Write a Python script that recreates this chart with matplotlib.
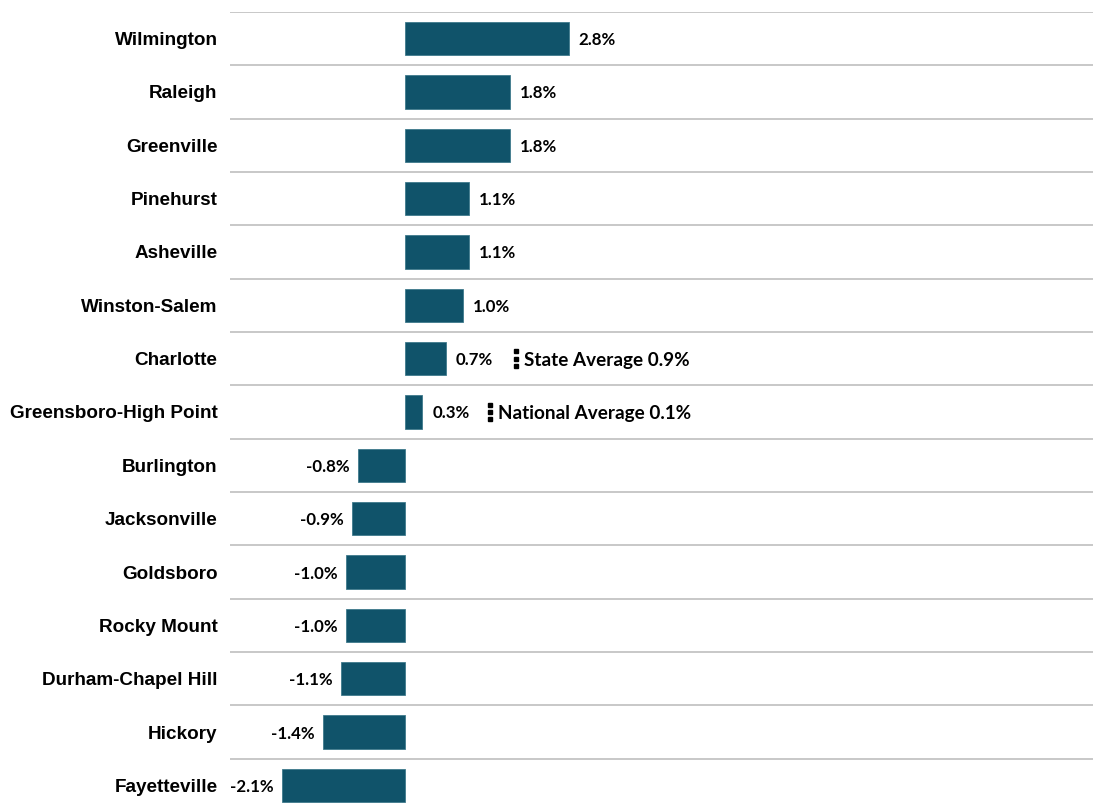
import matplotlib
matplotlib.use("Agg")
from matplotlib import pyplot as plt
import numpy as np

cities = ['Wilmington', 'Raleigh', 'Greenville', 'Pinehurst', 'Asheville',
          'Winston-Salem', 'Charlotte', 'Greensboro-High Point', 'Burlington',
          'Jacksonville', 'Goldsboro', 'Rocky Mount', 'Durham-Chapel Hill',
          'Hickory', 'Fayetteville']
growth = [2.8, 1.8, 1.8, 1.1, 1.1, 1.0, 0.7, 0.3, -0.8, -0.9, -1.0, -1.0, -1.1, -1.4, -2.1]

avg_labels = ['State Average 0.9%', 'National Average 0.1%']
avg_rows = ['Charlotte', 'Greensboro-High Point']
avg_marks = [1.9, 1.45]

bar_color = '#10536a'
label_font = ['Lato', 'DejaVu Sans']

fig = plt.figure(figsize=(10.93, 8.05), dpi=100)
ax = fig.add_axes([230 / 1093, -7 / 805, 1 - 230 / 1093, 800 / 805])

y = np.arange(len(cities))
ax.barh(y, growth, height=0.62, color=bar_color, edgecolor='#3f7a8c', linewidth=0.6, zorder=2)

# separators between rows
for b in np.arange(-0.5, len(cities) + 0.5, 1):
    ax.axhline(b, color='#bfbfbf', linewidth=1.2, zorder=1)

for yi, v in zip(y, growth):
    if v >= 0:
        ax.annotate(f'{v:.1f}%', (v, yi), xytext=(7, 0), textcoords='offset points',
                    ha='left', va='center_baseline', fontsize=12.2, fontweight='bold',
                    family=label_font, color='black')
    else:
        ax.annotate(f'{v:.1f}%', (v, yi), xytext=(-6, 0), textcoords='offset points',
                    ha='right', va='center_baseline', fontsize=12.2, fontweight='bold',
                    family=label_font, color='black')

# state / national average notes, each with a short dotted marker
for txt, row, xm in zip(avg_labels, avg_rows, avg_marks):
    yi = cities.index(row)
    ax.plot([xm] * 3, [yi - 0.14, yi, yi + 0.14], linestyle='none', marker='s',
            markersize=3.4, color='black', zorder=3)
    ax.annotate(txt, (xm, yi), xytext=(6, 0), textcoords='offset points',
                ha='left', va='center_baseline', fontsize=13.6, fontweight='bold',
                family=label_font, color='black')

ax.set_xlim(-2.99, 11.76)
ax.set_ylim(len(cities) - 0.5, -0.5)
ax.set_yticks(y)
ax.set_yticklabels(cities, fontsize=13.6, fontweight='bold', family='Liberation Sans')
ax.tick_params(axis='y', length=0, pad=9)
ax.set_xticks([])
for s in ax.spines.values():
    s.set_visible(False)

fig.savefig('out.png', dpi=100, facecolor='white')
